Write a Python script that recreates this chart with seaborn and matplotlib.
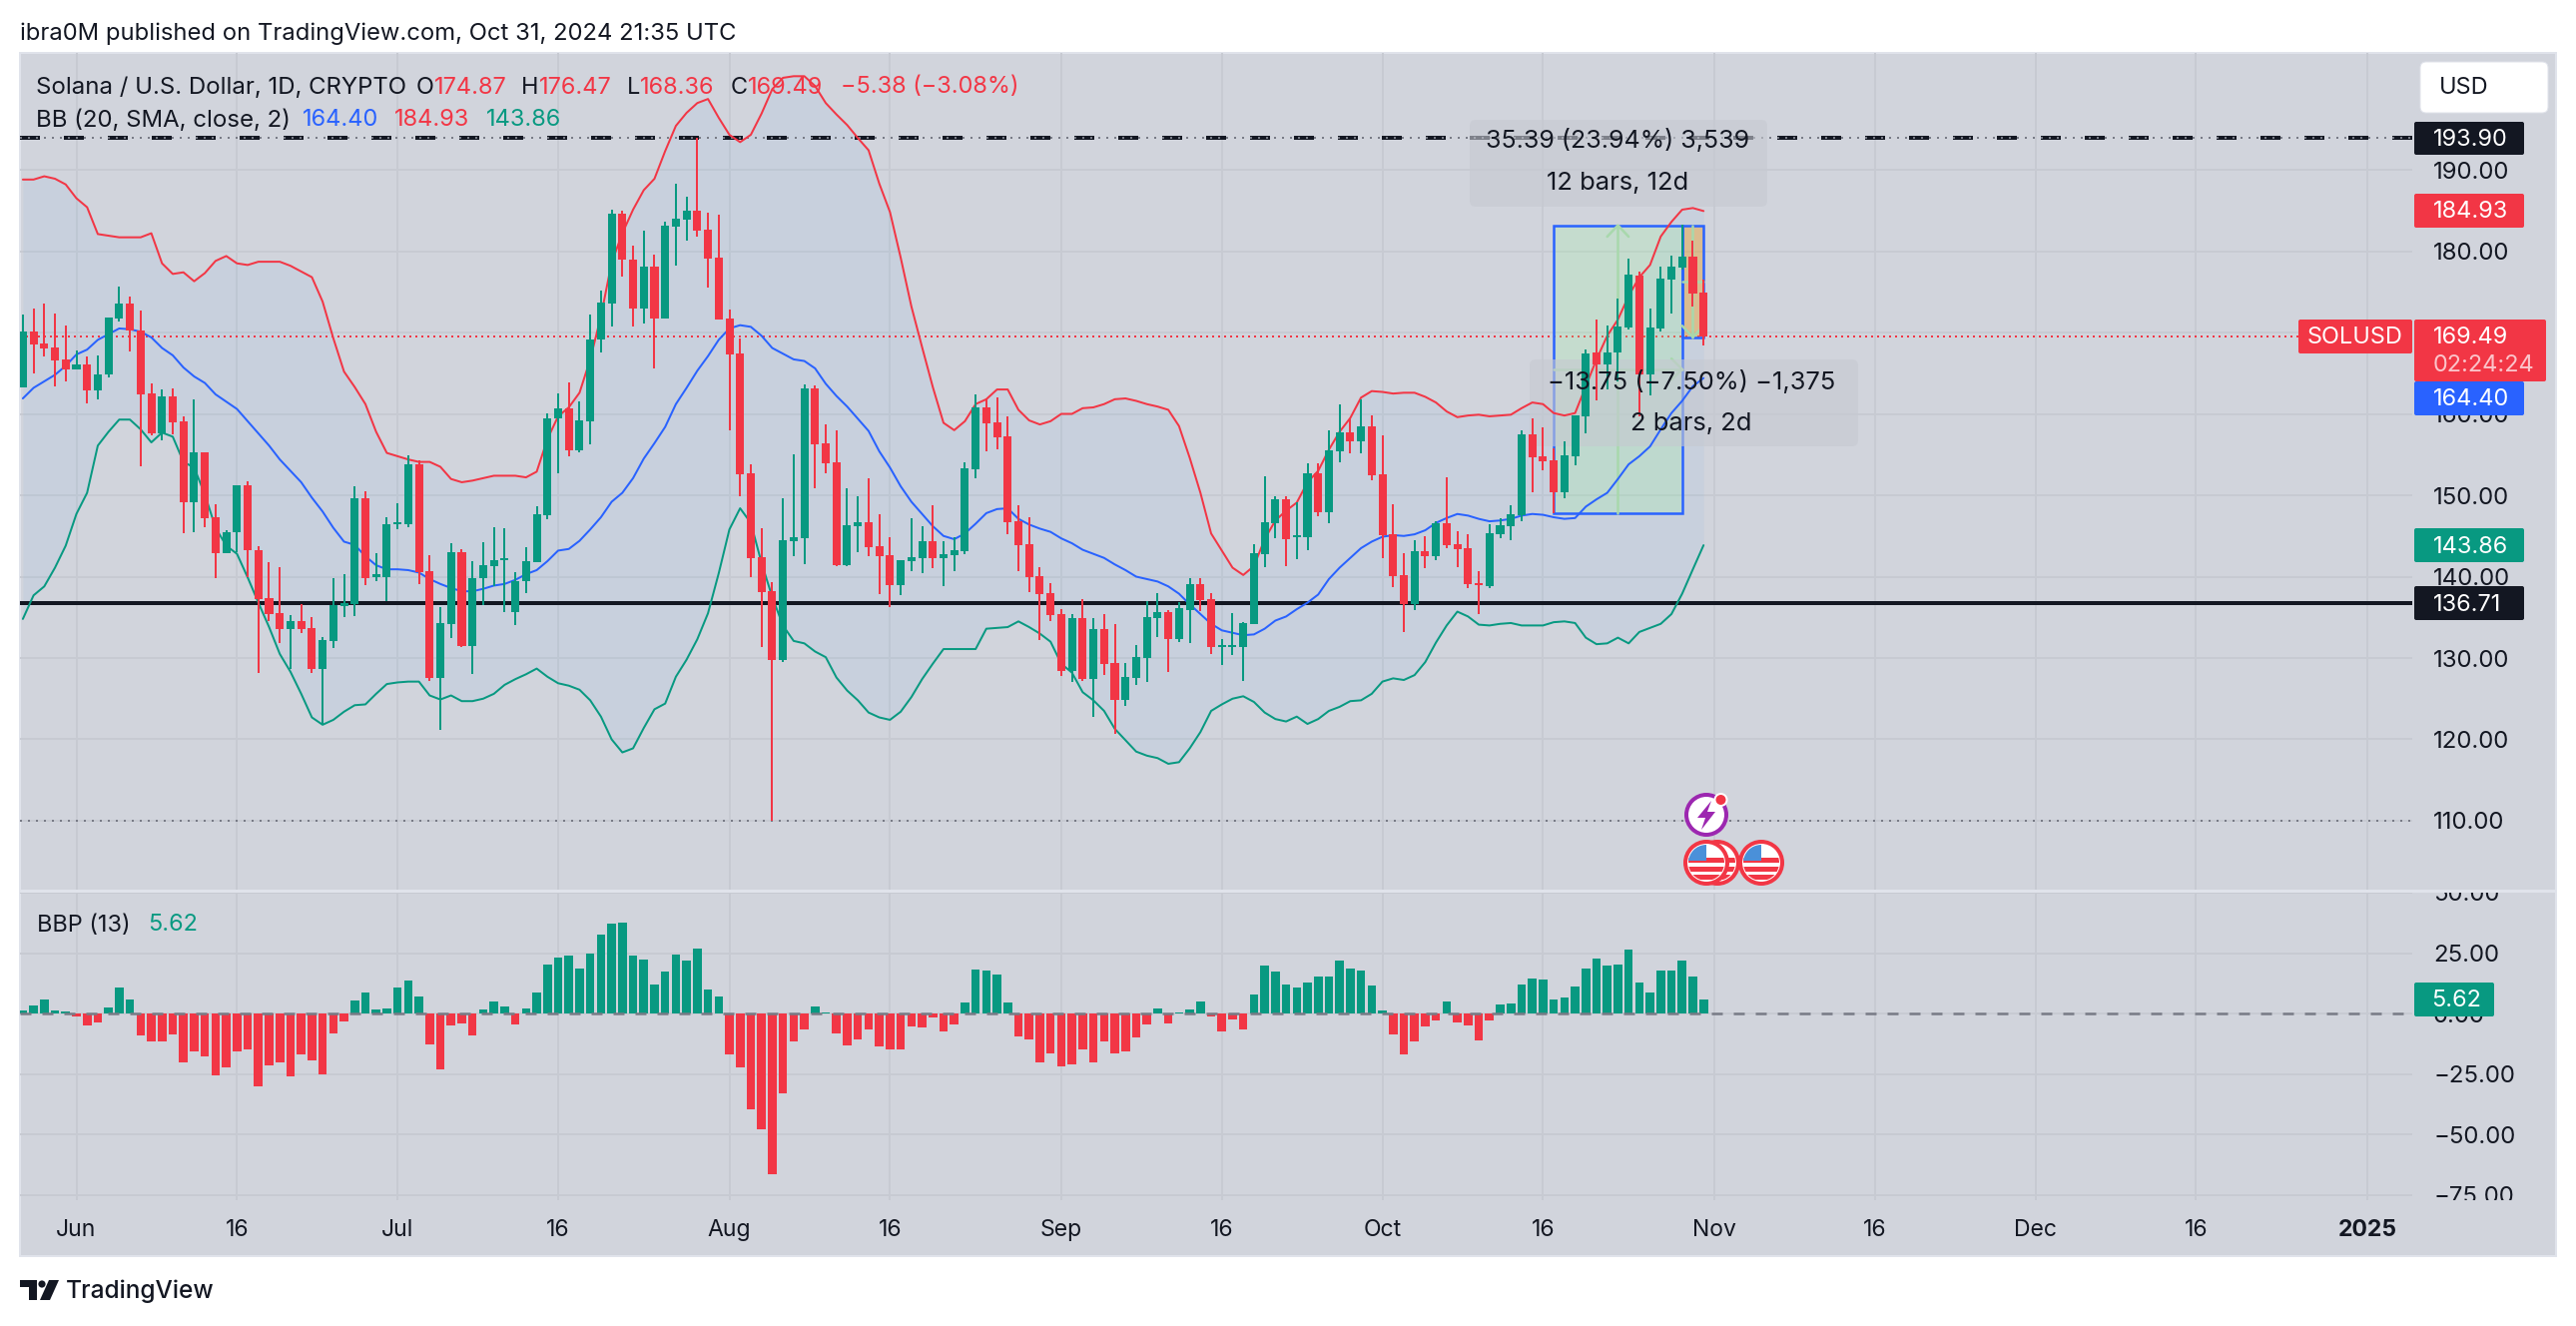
#!/usr/bin/env python3
# SOL/USD daily chart with Bollinger Bands and BBP pane

import numpy as np
import matplotlib
matplotlib.use("Agg")
import matplotlib.pyplot as plt
import seaborn as sns
from matplotlib.patches import Rectangle, FancyBboxPatch, Circle, Polygon

# ------------------------------------------
# DATA (day 0 = Jun 1 2024, first candle May 27)
# ------------------------------------------
first_day = -5

opens = [163.3, 170.1, 168.7, 168.2, 166.7, 165.5, 166.1, 162.9, 164.8, 171.7,
         173.6, 170.3, 162.5, 157.6, 162.2, 159.1, 149.1, 155.3, 147.3, 142.9,
         145.4, 151.2, 143.3, 137.4, 135.5, 133.5, 134.5, 133.7, 128.6, 132.1,
         136.4, 136.6, 149.6, 140.0, 140.0, 146.4, 146.4, 153.8, 140.7, 127.6,
         134.2, 143.0, 131.5, 139.8, 141.3, 142.0, 135.7, 139.4, 141.8, 147.6,
         159.4, 160.7, 155.5, 159.1, 169.1, 173.6, 184.6, 179.0, 173.0, 178.1,
         171.7, 183.0, 183.9, 185.0, 182.6, 179.2, 171.7, 167.4, 152.7, 142.4,
         138.2, 129.7, 144.4, 144.7, 163.1, 156.4, 154.0, 141.4, 146.2, 146.7,
         143.7, 142.6, 139.0, 141.9, 142.3, 144.4, 142.3, 142.6, 143.1, 153.2,
         160.8, 158.9, 157.2, 146.8, 144.0, 140.1, 138.0, 135.4, 128.4, 134.9,
         127.4, 133.6, 129.4, 124.8, 127.5, 130.0, 134.9, 135.6, 132.3, 135.9,
         139.1, 137.2, 131.4, 131.4, 131.4, 134.2, 142.8, 146.6, 149.5, 144.8,
         144.8, 152.7, 147.9, 155.4, 157.7, 156.6, 158.5, 152.6, 145.2, 140.2,
         136.6, 143.1, 142.5, 146.6, 144.0, 143.5, 139.2, 138.8, 145.2, 146.2,
         147.5, 157.5, 154.8, 154.3, 150.4, 154.8, 159.7, 167.5, 166.1, 167.5,
         170.6, 177.0, 164.8, 170.5, 176.5, 178.0, 179.3, 174.87]
highs = [172.2, 173.0, 173.6, 172.3, 170.9, 167.8, 167.0, 167.2, 171.9, 175.6,
         174.4, 172.7, 163.8, 163.0, 163.1, 159.7, 161.8, 155.3, 148.9, 145.7,
         151.2, 151.7, 143.8, 141.8, 141.2, 135.3, 136.6, 135.0, 132.6, 139.8,
         140.3, 151.1, 150.5, 142.9, 147.3, 149.0, 154.9, 154.3, 142.6, 136.3,
         144.1, 143.4, 141.9, 144.2, 146.1, 146.0, 140.5, 143.6, 148.7, 160.1,
         162.5, 163.9, 161.5, 172.2, 175.2, 185.1, 185.0, 180.7, 182.5, 179.6,
         183.6, 188.3, 186.7, 193.9, 184.7, 184.5, 172.8, 169.3, 153.8, 146.0,
         139.3, 149.6, 155.0, 163.6, 163.5, 158.7, 158.0, 150.9, 149.9, 152.1,
         147.7, 144.8, 142.0, 147.2, 146.2, 148.8, 144.4, 144.8, 154.0, 162.4,
         161.9, 162.0, 159.7, 148.8, 147.3, 141.2, 139.2, 136.0, 135.4, 137.2,
         134.9, 135.4, 134.2, 129.4, 131.6, 137.0, 138.0, 135.9, 136.9, 139.8,
         139.8, 138.0, 132.3, 135.5, 134.4, 144.0, 152.3, 149.9, 149.9, 149.1,
         153.9, 153.9, 158.0, 161.2, 159.4, 161.8, 159.8, 157.4, 148.9, 142.9,
         144.5, 145.0, 146.8, 152.2, 145.6, 145.2, 140.7, 146.4, 147.2, 148.8,
         158.0, 159.5, 158.3, 155.8, 156.6, 159.8, 167.9, 171.6, 170.9, 174.2,
         179.1, 177.5, 173.0, 178.1, 179.5, 183.2, 181.3, 176.47]
lows = [163.3, 165.0, 167.1, 163.4, 164.0, 165.5, 161.3, 161.8, 164.5, 171.3,
        167.7, 153.5, 157.4, 156.7, 157.5, 145.3, 145.5, 146.1, 139.8, 142.9,
        143.0, 139.9, 128.2, 134.6, 131.9, 128.7, 133.1, 128.2, 121.8, 131.2,
        135.0, 135.2, 138.9, 139.5, 137.0, 145.8, 146.1, 139.1, 127.2, 121.2,
        132.4, 131.3, 128.0, 136.5, 138.8, 135.7, 134.1, 138.0, 141.8, 147.1,
        152.7, 154.8, 155.3, 156.3, 167.5, 170.8, 176.9, 170.8, 171.1, 165.6,
        171.7, 178.2, 181.3, 181.8, 175.5, 171.6, 158.0, 149.9, 139.9, 131.3,
        110.0, 129.5, 142.5, 141.5, 150.9, 152.7, 141.3, 141.3, 143.0, 142.5,
        137.9, 136.3, 137.7, 140.7, 140.4, 141.1, 138.8, 140.7, 142.8, 152.1,
        155.4, 155.6, 145.2, 140.7, 138.1, 132.2, 134.5, 127.8, 127.1, 127.2,
        122.8, 127.9, 120.7, 124.1, 126.7, 127.1, 132.6, 128.3, 132.0, 131.8,
        135.8, 130.5, 129.1, 130.4, 127.2, 134.2, 141.2, 144.7, 141.3, 142.2,
        143.2, 147.4, 146.6, 154.0, 155.1, 155.1, 151.8, 142.3, 138.7, 133.2,
        135.9, 141.0, 142.0, 143.5, 141.2, 138.6, 135.4, 138.6, 144.7, 144.5,
        146.8, 150.4, 153.1, 147.8, 149.6, 153.7, 157.6, 161.6, 163.0, 164.0,
        170.4, 159.7, 162.3, 170.1, 172.3, 177.7, 173.2, 168.36]
closes = [170.1, 168.5, 168.1, 166.6, 165.5, 166.1, 162.9, 164.9, 171.9, 173.6,
          170.2, 162.4, 157.6, 162.2, 159.0, 149.1, 155.3, 147.2, 142.9, 145.5,
          151.2, 143.2, 137.2, 135.4, 133.5, 134.5, 133.6, 128.6, 132.2, 136.5,
          136.8, 149.6, 139.8, 140.2, 146.4, 146.6, 153.8, 140.6, 127.6, 134.3,
          143.0, 131.5, 139.8, 141.4, 142.0, 142.0, 139.4, 141.9, 147.7, 159.4,
          160.7, 155.5, 159.2, 169.1, 173.7, 184.6, 178.9, 173.0, 178.1, 171.7,
          183.1, 184.0, 185.0, 182.5, 179.1, 171.6, 167.3, 152.6, 142.3, 138.1,
          129.7, 144.5, 144.8, 163.1, 156.3, 153.9, 141.4, 146.3, 146.7, 143.6,
          142.5, 139.0, 142.0, 142.4, 144.4, 142.3, 142.8, 143.2, 153.3, 160.8,
          158.8, 157.1, 146.7, 143.9, 139.9, 137.9, 135.3, 128.4, 134.9, 127.4,
          133.6, 129.3, 124.8, 127.7, 130.1, 135.0, 135.6, 132.3, 136.1, 139.1,
          137.1, 131.4, 131.5, 131.5, 134.3, 142.9, 146.7, 149.5, 144.6, 145.0,
          152.7, 147.9, 155.5, 157.7, 156.6, 158.5, 152.5, 145.1, 140.1, 136.6,
          143.1, 142.5, 146.6, 143.9, 143.4, 139.1, 138.9, 145.3, 146.3, 147.7,
          157.5, 154.7, 154.2, 150.4, 154.9, 159.8, 167.4, 166.1, 167.5, 170.7,
          177.1, 164.8, 170.6, 176.6, 178.1, 179.3, 174.8, 169.49]

bb_upper = [188.8, 188.8, 189.2, 188.9, 188.2, 186.5, 185.4, 182.1, 181.9, 181.7,
            181.7, 181.7, 182.2, 178.5, 177.2, 177.4, 176.3, 177.3, 178.8, 179.4,
            178.5, 178.3, 178.7, 178.7, 178.7, 178.2, 177.5, 176.8, 173.8, 169.3,
            165.2, 163.3, 161.2, 157.8, 155.2, 154.8, 154.4, 154.1, 154.1, 153.5,
            152.0, 151.6, 151.8, 152.1, 152.4, 152.4, 152.4, 152.2, 152.9, 156.9,
            159.7, 160.8, 162.6, 166.7, 172.0, 178.6, 182.2, 185.1, 187.5, 188.9,
            192.3, 195.4, 197.0, 198.2, 198.7, 196.4, 194.3, 193.4, 194.3, 196.9,
            199.9, 201.3, 201.5, 201.5, 200.3, 198.2, 196.8, 195.5, 193.9, 192.4,
            188.3, 184.8, 179.2, 173.2, 168.2, 163.3, 158.9, 158.0, 159.1, 161.2,
            161.8, 163.0, 163.0, 160.5, 159.2, 158.7, 159.1, 160.0, 160.0, 160.7,
            160.8, 161.2, 161.8, 161.9, 161.6, 161.2, 160.9, 160.5, 158.5, 154.6,
            150.3, 145.3, 143.2, 141.1, 140.2, 141.3, 144.6, 146.9, 148.1, 149.1,
            151.6, 153.0, 155.6, 157.8, 159.5, 162.0, 162.8, 162.7, 162.5, 162.6,
            162.6, 162.1, 161.4, 160.3, 159.6, 159.8, 159.9, 159.7, 159.8, 159.9,
            160.7, 161.4, 161.2, 160.1, 159.8, 160.1, 163.4, 166.7, 169.6, 171.6,
            174.5, 176.8, 178.3, 181.8, 183.6, 185.1, 185.3, 184.93]
bb_basis = [161.9, 163.2, 164.0, 164.8, 165.9, 167.3, 167.9, 169.1, 169.8, 170.5,
            170.4, 170.1, 169.4, 168.1, 167.2, 165.7, 164.6, 163.8, 162.4, 161.5,
            160.6, 159.1, 157.6, 156.1, 154.4, 153.0, 151.6, 149.7, 148.0, 146.0,
            144.3, 143.9, 142.5, 141.4, 140.9, 140.9, 140.8, 140.5, 139.7, 139.1,
            138.6, 138.2, 138.2, 138.5, 138.9, 139.1, 139.6, 140.3, 140.8, 141.9,
            143.2, 143.4, 144.4, 145.8, 147.3, 149.2, 150.3, 152.1, 154.5, 156.4,
            158.4, 161.2, 163.2, 165.3, 167.1, 169.1, 170.5, 170.9, 170.7, 169.6,
            168.1, 167.4, 166.7, 166.5, 165.6, 163.7, 162.2, 160.9, 159.4, 157.9,
            155.4, 153.4, 151.1, 149.2, 147.7, 146.2, 145.0, 144.6, 145.3, 146.5,
            147.8, 148.3, 148.4, 147.1, 146.4, 145.9, 145.5, 144.7, 144.1, 143.3,
            142.8, 142.3, 141.5, 140.8, 140.0, 139.7, 139.4, 138.8, 137.9, 136.6,
            135.4, 134.2, 133.4, 133.1, 132.8, 132.9, 133.6, 134.6, 135.1, 136.0,
            136.8, 137.8, 139.7, 141.1, 142.3, 143.5, 144.3, 144.9, 145.1, 145.0,
            145.2, 145.7, 146.6, 147.2, 147.7, 147.5, 147.1, 146.8, 146.9, 147.1,
            147.5, 147.7, 147.6, 147.3, 147.1, 147.2, 148.6, 149.5, 150.3, 152.0,
            153.8, 154.8, 156.0, 158.1, 160.1, 161.6, 163.4, 164.40]
bb_lower = [134.8, 137.7, 138.8, 141.1, 143.8, 147.7, 150.3, 156.1, 157.8, 159.3,
            159.3, 158.1, 156.5, 157.7, 157.2, 154.1, 153.4, 150.1, 146.0, 143.8,
            142.8, 139.9, 136.8, 133.8, 130.5, 128.3, 125.6, 122.7, 121.8, 122.4,
            123.4, 124.2, 124.3, 125.6, 126.8, 127.0, 127.1, 127.1, 125.4, 124.9,
            125.4, 124.7, 124.7, 125.0, 125.6, 126.7, 127.4, 128.0, 128.7, 127.7,
            126.9, 126.6, 126.1, 124.8, 122.8, 120.0, 118.4, 118.9, 121.4, 123.7,
            124.4, 127.7, 129.8, 132.3, 135.5, 140.4, 145.8, 148.4, 146.6, 141.7,
            137.5, 134.0, 132.1, 131.8, 130.8, 130.1, 127.6, 126.0, 124.8, 123.3,
            122.7, 122.4, 123.4, 125.2, 127.4, 129.3, 131.1, 131.1, 131.1, 131.1,
            133.6, 133.7, 133.8, 134.5, 133.8, 133.0, 132.0, 129.3, 128.2, 125.8,
            124.8, 123.5, 121.3, 119.9, 118.5, 118.0, 117.7, 117.0, 117.2, 118.9,
            120.9, 123.5, 124.3, 125.0, 125.3, 124.6, 123.3, 122.5, 122.2, 122.8,
            121.9, 122.5, 123.5, 124.0, 124.7, 124.8, 125.6, 127.1, 127.5, 127.3,
            127.9, 129.5, 131.9, 134.0, 135.7, 135.1, 134.1, 134.0, 134.2, 134.3,
            134.0, 134.0, 134.0, 134.4, 134.5, 134.3, 132.5, 131.7, 131.8, 132.5,
            131.8, 133.2, 133.7, 134.2, 135.4, 137.9, 140.9, 143.86]

bbp = [1.1, 3.3, 5.8, 1.2, 0.8, -1.2, -5.0, -3.7, 2.5, 10.7,
       5.8, -9.1, -11.6, -11.6, -8.7, -20.2, -15.7, -17.8, -25.6, -22.3,
       -15.7, -14.9, -30.2, -21.5, -20.2, -26.0, -16.9, -19.4, -25.2, -8.3,
       -3.3, 5.4, 8.7, 1.7, 2.1, 10.7, 13.6, 7.0, -12.8, -23.1,
       -5.0, -4.1, -9.1, 1.7, 5.0, 2.9, -4.5, 2.1, 8.7, 20.2,
       23.1, 24.0, 18.6, 24.8, 32.6, 37.2, 37.6, 24.0, 22.3, 12.0,
       17.4, 24.4, 21.9, 26.9, 9.9, 7.0, -16.9, -22.3, -39.7, -47.9,
       -66.5, -33.1, -11.6, -6.6, 2.9, 0.4, -8.3, -13.2, -10.7, -6.6,
       -13.6, -14.9, -14.9, -5.4, -5.8, -1.7, -7.4, -4.5, 4.5, 18.2,
       17.8, 16.1, 4.5, -9.5, -10.7, -20.2, -16.5, -21.9, -21.1, -14.9,
       -20.2, -11.6, -16.5, -15.7, -9.9, -4.5, 2.1, -4.1, 0.4, 1.7,
       5.0, -1.2, -7.4, -2.5, -6.6, 7.9, 19.8, 17.4, 12.0, 10.7,
       12.8, 15.3, 15.3, 21.9, 18.6, 17.8, 11.6, 1.2, -8.7, -16.9,
       -11.6, -5.4, -2.9, 5.0, -3.7, -5.0, -11.2, -2.9, 3.7, 4.1,
       12.0, 14.5, 14.0, 5.8, 6.6, 11.2, 18.6, 22.7, 19.8, 20.2,
       26.4, 12.8, 8.7, 17.8, 17.8, 21.9, 15.3, 5.62]

level_resistance = 193.90
level_support = 136.71
level_low = 110.00
last_close = 169.49

measure_up_days = [138, 150]
measure_up_prices = [147.79, 183.18]
measure_down_days = [150, 152]
measure_down_prices = [169.43, 183.18]

x_tick_days = [0, 15, 30, 45, 61, 76, 92, 107, 122, 137, 153, 168, 183, 198, 214]
x_tick_labels = ["Jun", "16", "Jul", "16", "Aug", "16", "Sep", "16", "Oct", "16",
                 "Nov", "16", "Dec", "16", "2025"]
price_ticks = [110, 120, 130, 140, 150, 160, 170, 180, 190]
bbp_ticks = [-75, -50, -25, 0, 25, 50]

# ------------------------------------------
# STYLE
# ------------------------------------------
RED = "#f23645"
GREEN = "#089981"
BLUE = "#2962ff"
INK = "#131722"
PANEL = "#d1d4dc"
GRID = "#c7cad2"
ARROW = "#a8d8ac"

W, H = 2580, 1328
DPI = 100

sns.set_theme(style="white")
plt.rcParams["font.family"] = ["Inter", "DejaVu Sans"]
plt.rcParams["axes.unicode_minus"] = True


def pt(px):
    # pixel size to points
    return px * 72 / DPI


def box(left, top, right, bottom):
    # figure fraction rect from pixel edges
    return [left / W, 1 - bottom / H, (right - left) / W, (bottom - top) / H]


fig = plt.figure(figsize=(W / DPI, H / DPI), dpi=DPI, facecolor="white")

# pixel-space layers, one behind and one in front of the chart
ax_back = fig.add_axes([0, 0, 1, 1], zorder=-1)
ax_top = fig.add_axes([0, 0, 1, 1], zorder=10)
for a in (ax_back, ax_top):
    a.set_xlim(0, W)
    a.set_ylim(H, 0)
    a.axis("off")
ax_top.patch.set_alpha(0)

ax_back.add_patch(Rectangle((20, 53), 2540, 1205, fc=PANEL, ec="#e0e3eb", lw=pt(2)))

ax = fig.add_axes(box(20, 53, 2416, 892), facecolor="none")
ax2 = fig.add_axes(box(20, 894, 2416, 1202), facecolor="none")

days = np.arange(first_day, first_day + len(closes))

# ------------------------------------------
# PRICE PANE
# ------------------------------------------
ax.fill_between(days, bb_lower, bb_upper, color="#2196f3", alpha=0.05, lw=0, zorder=1)

ax.axhline(level_resistance, color=INK, lw=pt(4), ls=(0, (5, 6)), zorder=1.5)
ax.axhline(level_resistance, color="#787b86", lw=pt(2), ls=(0, (1, 3)), zorder=1.6)
ax.axhline(level_low, color="#787b86", lw=pt(2), ls=(0, (1, 3)), zorder=1.6)
ax.axhline(level_support, color=INK, lw=pt(4), zorder=1.5)
ax.axhline(last_close, color=RED, lw=pt(2), ls=(0, (1, 2)), zorder=1.6)

# measure tools
ax.add_patch(Rectangle((measure_up_days[0], measure_up_prices[0]),
                       measure_up_days[1] - measure_up_days[0],
                       measure_up_prices[1] - measure_up_prices[0],
                       fc="#96ff96", alpha=0.2, lw=0, zorder=1.7))
ax.add_patch(Rectangle((measure_up_days[0], measure_up_prices[0]),
                       measure_up_days[1] - measure_up_days[0],
                       measure_up_prices[1] - measure_up_prices[0],
                       fc="none", ec=BLUE, lw=pt(2.5), zorder=1.8))
ax.add_patch(Rectangle((measure_down_days[0], measure_down_prices[0]),
                       measure_down_days[1] - measure_down_days[0],
                       measure_down_prices[1] - measure_down_prices[0],
                       fc="#ff9800", alpha=0.35, lw=0, zorder=1.7))
ax.add_patch(Rectangle((measure_down_days[0], measure_down_prices[0]),
                       measure_down_days[1] - measure_down_days[0],
                       measure_down_prices[1] - measure_down_prices[0],
                       fc="none", ec=BLUE, lw=pt(2.5), zorder=1.8))

mid_day = sum(measure_up_days) / 2
mid_price = sum(measure_up_prices) / 2
ax.plot([mid_day, mid_day], measure_up_prices, color=ARROW, lw=pt(2.5), zorder=1.85)
ax.plot([mid_day - 1, mid_day, mid_day + 1],
        [measure_up_prices[1] - 1.4, measure_up_prices[1], measure_up_prices[1] - 1.4],
        color=ARROW, lw=pt(2.5), zorder=1.85)
ax.plot(measure_up_days, [mid_price, mid_price], color=ARROW, lw=pt(2.5), zorder=1.85)
ax.plot([measure_up_days[1] - 1, measure_up_days[1], measure_up_days[1] - 1],
        [mid_price + 1.3, mid_price, mid_price - 1.3], color=ARROW, lw=pt(2.5), zorder=1.85)
down_day = sum(measure_down_days) / 2
down_mid = sum(measure_down_prices) / 2
ax.plot([down_day, down_day], measure_down_prices, color=ARROW, lw=pt(2.5), zorder=1.85)
ax.plot([down_day - 1, down_day, down_day + 1],
        [measure_down_prices[0] + 1.4, measure_down_prices[0], measure_down_prices[0] + 1.4],
        color=ARROW, lw=pt(2.5), zorder=1.85)
ax.plot(measure_down_days, [down_mid, down_mid], color=ARROW, lw=pt(2.5), zorder=1.85)

# measure labels sit over the tool but under the candles
for (bx, by, bw, bh) in [(1472, 120, 298, 87), (1532, 360, 329, 87)]:
    ax.add_patch(FancyBboxPatch((bx + 6, by + 6), bw - 12, bh - 12,
                                boxstyle="round,pad=6", transform=ax_top.transData,
                                fc="#c6c9d1", ec="none", alpha=0.6, zorder=2, clip_on=False))

for series, colour in [(bb_upper, RED), (bb_basis, BLUE), (bb_lower, GREEN)]:
    sns.lineplot(x=days, y=series, color=colour, lw=pt(2), ax=ax, estimator=None,
                 errorbar=None, legend=False, zorder=2.5)

# candles
colours = [GREEN if c >= o else RED for o, c in zip(opens, closes)]
ax.vlines(days, lows, highs, colors=colours, lw=pt(2), zorder=3)
body_low = np.minimum(opens, closes)
body_height = np.maximum(np.abs(np.array(closes) - np.array(opens)), 0.25)
ax.bar(days, body_height, bottom=body_low, width=0.75, color=colours, lw=0, zorder=3.1)

ax.set_xlim(-5.27, 218.2)
ax.set_ylim(101.41, 204.36)
ax.set_yticks(price_ticks)
ax.set_yticklabels([f"{v:.2f}" for v in price_ticks])
ax.set_xticks(x_tick_days)
ax.tick_params(axis="x", length=0, labelbottom=False)

# ------------------------------------------
# BBP PANE
# ------------------------------------------
signs = ["up" if v >= 0 else "down" for v in bbp]
sns.barplot(x=days, y=bbp, hue=signs, palette={"up": GREEN, "down": RED}, native_scale=True,
            dodge=False, width=0.8, saturation=1, linewidth=0, legend=False, ax=ax2, zorder=2)
ax2.axhline(0, color="#787b86", lw=pt(2.5), ls=(0, (4.4, 4.4)), zorder=3)

ax2.set_xlim(-5.27, 218.2)
ax2.set_ylim(-77.27, 50)
ax2.set_yticks(bbp_ticks)
ax2.set_yticklabels([f"{v:.2f}".replace("-", "\u2212") for v in bbp_ticks])
ax2.set_xticks(x_tick_days)
ax2.set_xticklabels(x_tick_labels)
ax2.set_xlabel("")
ax2.set_ylabel("")
ax2.get_xticklabels()[-1].set_fontweight("bold")

for a in (ax, ax2):
    sns.despine(ax=a, left=True, right=True, top=True, bottom=True)
    a.set_axisbelow(True)
    a.grid(True, color=GRID, lw=pt(2), zorder=0)
    a.yaxis.tick_right()
    a.tick_params(axis="y", length=0, pad=pt(21), labelsize=pt(24), labelcolor=INK)
    a.tick_params(axis="x", length=0, pad=pt(19), labelsize=pt(23), labelcolor=INK)

# ------------------------------------------
# OVERLAY TEXT AND LABELS (pixel space)
# ------------------------------------------
t = ax_top


def label(x, y, s, colour=INK, size=23.5, **kw):
    kw.setdefault("va", "center")
    return t.text(x, y + 1.5, s, color=colour, fontsize=pt(size), **kw)


def tag(left, top, right, bottom, colour):
    t.add_patch(FancyBboxPatch((left + 2, top + 2), right - left - 4, bottom - top - 4,
                               boxstyle="round,pad=2", fc=colour, ec="none"))


# masks that clip the half hidden scale labels at the pane edges
t.add_patch(Rectangle((2417, 870), 140, 22, fc=PANEL, ec="none"))
t.add_patch(Rectangle((2417, 1202), 140, 20, fc=PANEL, ec="none"))
t.add_patch(Rectangle((20, 891), 2540, 3, fc="#e0e3eb", ec="none"))

label(20, 32, "ibra0M published on TradingView.com, Oct 31, 2024 21:35 UTC", size=23.8)

label(36, 86, "Solana / U.S. Dollar, 1D, CRYPTO", size=24)
for x, s, c in [(417, "O", INK), (435, "174.87", RED), (522, "H", INK), (540, "176.47", RED),
                (628, "L", INK), (641, "168.36", RED), (732, "C", INK), (749, "169.49", RED),
                (842, "\u22125.38 (\u22123.08%)", RED)]:
    label(x, 86, s, c)
label(36, 119, "BB (20, SMA, close, 2)", size=24)
label(303, 119, "164.40", BLUE)
label(395, 119, "184.93", RED)
label(487, 119, "143.86", GREEN)
label(37, 925, "BBP (13)")
label(148, 925, "5.62", GREEN)

label(1620, 140, "35.39 (23.94%) 3,539", size=25, ha="center")
label(1620, 182, "12 bars, 12d", size=25.5, ha="center")
label(1694, 382, "\u221213.75 (\u22127.50%) \u22121,375", size=25.5, ha="center")
label(1694, 423, "2 bars, 2d", size=25.5, ha="center")

t.add_patch(FancyBboxPatch((2430, 68), 116, 39, boxstyle="round,pad=6", fc="white", ec="#e0e3eb", lw=pt(1)))
label(2443, 87, "USD")

tag(2418, 122, 2528, 155, INK)
label(2437, 138.5, "193.90", "white")
tag(2418, 194, 2528, 228, RED)
label(2437, 211, "184.93", "white")
tag(2302, 320, 2416, 354, RED)
label(2311, 337, "SOLUSD", "white")
tag(2418, 320, 2550, 382, RED)
label(2437, 337, "169.49", "white")
label(2437, 364, "02:24:24", "#fbc4ca")
tag(2418, 382, 2528, 416, BLUE)
label(2437, 399, "164.40", "white")
tag(2418, 529, 2528, 563, GREEN)
label(2437, 546, "143.86", "white")
tag(2418, 587, 2528, 621, INK)
label(2437, 604, "136.71", "white")
tag(2418, 984, 2498, 1018, GREEN)
label(2435, 1001, "5.62", "white")


def flag_icon(cx, cy, r=21):
    ring = Circle((cx, cy), r, fc="white", ec=RED, lw=pt(4))
    t.add_patch(ring)
    clip = Circle((cx, cy), r - 3, transform=t.transData)
    for dy in (-3, 6, 14):
        s = Rectangle((cx - r, cy + dy - 2), 2 * r, 5, fc=RED, ec="none")
        t.add_patch(s)
        s.set_clip_path(clip)
    c = Rectangle((cx - r, cy - r), r, r - 2, fc="#4a90d9", ec="none")
    t.add_patch(c)
    c.set_clip_path(clip)


# economic event icons
t.add_patch(Circle((1709, 816), 20, fc="white", ec="#9c27b0", lw=pt(4)))
t.add_patch(Polygon([(1714, 802), (1700, 819), (1708, 819), (1704, 831), (1718, 813), (1710, 813)],
                    fc="#9c27b0", ec="none"))
t.add_patch(Circle((1723.5, 801), 6, fc=RED, ec="white", lw=pt(2)))
flag_icon(1720, 864)
flag_icon(1709, 864)
flag_icon(1764, 864)

# logo
t.add_patch(Polygon([(20, 1282), (37, 1282), (37, 1302), (29, 1302), (29, 1289), (20, 1289)], fc=INK, ec="none"))
t.add_patch(Circle((42, 1286), 3.6, fc=INK, ec="none"))
t.add_patch(Polygon([(49, 1282), (59, 1282), (50, 1302), (40, 1302)], fc=INK, ec="none"))
label(66, 1292, "TradingView", size=24.5, fontweight="medium")

fig.savefig("out.png", dpi=DPI)
